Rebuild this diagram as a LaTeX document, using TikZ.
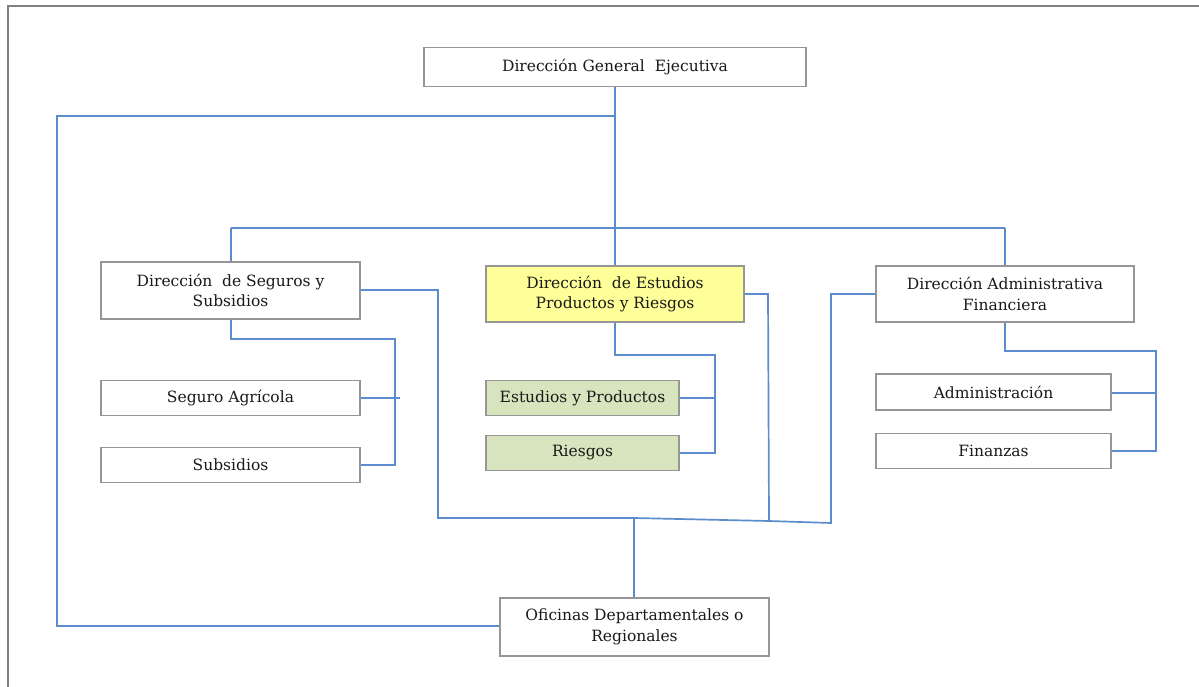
\documentclass[tikz,border=0pt]{standalone}
\usepackage{fontspec}
\setmainfont{DejaVu Serif}
\definecolor{conn}{RGB}{91,140,205}
\definecolor{boxline}{RGB}{150,150,150}
\definecolor{yellowfill}{RGB}{255,255,153}
\definecolor{greenfill}{RGB}{215,228,189}
\definecolor{framegray}{RGB}{128,128,128}
\begin{document}
\begin{tikzpicture}[x=1pt,y=-1pt,
  box/.style={draw=boxline,line width=1.6pt,fill=white,inner sep=0pt,align=center,font=\fontsize{15.5}{20.5}\selectfont,text=black!90},
  ln/.style={draw=conn,line width=1.7pt}]
\useasboundingbox (0,0) rectangle (1199,687);
\draw[framegray,line width=2pt] (8,687) -- (8,6) -- (1199,6);
% boxes
\node[box,minimum width=382pt,minimum height=39pt] (dge) at (615,67) {Dirección General\ \ Ejecutiva};
\node[box,minimum width=259pt,minimum height=57pt] (dss) at (230.5,290.5) {Dirección\ \ de Seguros y\\Subsidios};
\node[box,fill=yellowfill,minimum width=258pt,minimum height=56pt] (dep) at (615,294) {Dirección\ \ de Estudios\\Productos y Riesgos};
\node[box,minimum width=258pt,minimum height=56pt] (daf) at (1005,294) {Dirección Administrativa\\Financiera};
\node[box,minimum width=259pt,minimum height=35pt] (sa) at (230.5,398) {Seguro Agrícola};
\node[box,minimum width=259pt,minimum height=35pt] (sub) at (230.5,465) {Subsidios};
\node[box,fill=greenfill,minimum width=193pt,minimum height=35pt] (ep) at (582.5,398) {Estudios y Productos};
\node[box,fill=greenfill,minimum width=193pt,minimum height=35pt] (rie) at (582.5,453) {Riesgos};
\node[box,minimum width=235pt,minimum height=36pt] (adm) at (993.5,392) {Administración};
\node[box,minimum width=235pt,minimum height=35pt] (fin) at (993.5,451) {Finanzas};
\node[box,minimum width=269pt,minimum height=58pt] (ofi) at (634.5,627) {Oficinas Departamentales o\\Regionales};
% helper coordinates
\coordinate (top) at (615,116);
\coordinate (left) at (57,116);
\coordinate (leftb) at (57,626);
\coordinate (busl) at (231,228);
\coordinate (busr) at (1005,228);
\coordinate (b1) at (438,518);
\coordinate (b2) at (634,518);
\coordinate (b3) at (769,521);
\coordinate (b4) at (831,523);
% connectors
\draw[ln] (dge.south) -- (dep.north);
\draw[ln] (top) -- (left) -- (leftb) -- (ofi.west |- leftb);
\draw[ln] (busl) -- (busr);
\draw[ln] (busl) -- (dss.north -| busl);
\draw[ln] (busr) -- (daf.north -| busr);
% seguros
\draw[ln] (dss.south -| busl) -- (231,339) -- (395,339) -- (395,465) -- (sub.east);
\draw[ln] (sa.east) -- (400,398);
% bottom bus
\draw[ln] (dss.east |- 0,290) -- (438,290) -- (b1) -- (b2) -- (b3) -- (b4) -- (831,294) -- (daf.west |- 0,294);
\draw[ln] (dep.east) -- (768,294) -- (b3);
\draw[ln] (b2) -- (ofi.north -| b2);
% estudios
\draw[ln] (dep.south) -- (615,355) -- (715,355) -- (715,453) -- (rie.east);
\draw[ln] (ep.east) -- (715,398);
% admin
\draw[ln] (daf.south) -- (1005,351) -- (1156,351) -- (1156,451) -- (fin.east);
\draw[ln] (adm.east |- 0,393) -- (1156,393);
\end{tikzpicture}
\end{document}
